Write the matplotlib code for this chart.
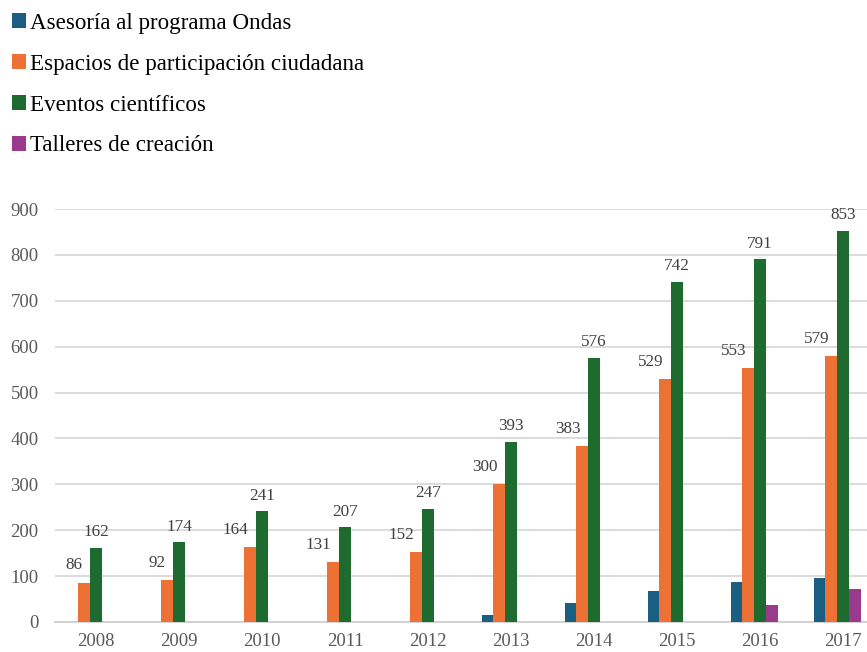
import numpy as np
import matplotlib
matplotlib.use("Agg")
import matplotlib.pyplot as plt
from matplotlib.patches import Patch

# Años y actividades por categoría
years = ["2008", "2009", "2010", "2011", "2012", "2013", "2014", "2015", "2016", "2017"]
asesoria = [0, 0, 0, 0, 0, 15, 42, 67, 87, 96]
espacios = [86, 92, 164, 131, 152, 300, 383, 529, 553, 579]
eventos = [162, 174, 241, 207, 247, 393, 576, 742, 791, 853]
talleres = [0, 0, 0, 0, 0, 0, 0, 1, 37, 72]
otros = [0, 0, 0, 0, 0, 0, 1, 1, 1, 1]

series_labels = ["Asesoría al programa Ondas", "Espacios de participación ciudadana",
                 "Eventos científicos", "Talleres de creación"]
colors = ["#1A5F82", "#ED7134", "#1D6B2F", "#993A8C", "#5E9A4E"]

plt.rcParams["font.family"] = ["Liberation Serif", "DejaVu Serif"]

W, H = 867, 652
fig = plt.figure(figsize=(W / 100, H / 100), dpi=100)
# plot area in pixels: left 54.5, width 830 (extends past the right edge), y0 at 622, y900 at 209
ax = fig.add_axes([54.5 / W, 30 / H, 830 / W, 413 / H])

x = np.arange(len(years))
bw = 0.141
all_series = [asesoria, espacios, eventos, talleres, otros]
bars = []
for i, (vals, c) in enumerate(zip(all_series, colors)):
    b = ax.bar(x + (i - 2) * bw, vals, width=bw, color=c, zorder=3, linewidth=0)
    bars.append(b)

# value labels for participation spaces and scientific events
for xi, v in zip(x, espacios):
    ax.annotate(str(v), (xi - bw, v), xytext=(-1.5, 9.4), textcoords="offset points",
                ha="right", va="baseline", fontsize=12.3, color="#404040")
for xi, v in zip(x, eventos):
    ax.annotate(str(v), (xi, v), xytext=(0, 8.2), textcoords="offset points",
                ha="center", va="baseline", fontsize=12.3, color="#404040")

ax.set_xlim(-0.5, 9.5)
ax.set_ylim(0, 900)
ax.set_yticks(np.arange(0, 901, 100))
ax.set_xticks(x)
ax.set_xticklabels(years)
ax.yaxis.grid(True, color="#D9D9D9", linewidth=1.3, zorder=0)
ax.set_axisbelow(True)
for s in ["top", "right", "left"]:
    ax.spines[s].set_visible(False)
ax.spines["bottom"].set_color("#D0D0D0")
ax.spines["bottom"].set_linewidth(1.3)
ax.tick_params(axis="both", length=0, labelsize=13.5, labelcolor="#595959")
ax.tick_params(axis="y", pad=11.5)
ax.tick_params(axis="x", pad=8)

handles = [Patch(facecolor=c, edgecolor="none") for c in colors[:4]]
fig.legend(handles, series_labels, loc="upper left", bbox_to_anchor=(5 / W, 1 - 6 / H),
           frameon=False, fontsize=16.6, handlelength=0.6, handleheight=0.6,
           handletextpad=0.2, labelspacing=0.86, borderaxespad=0, borderpad=0.3)

fig.savefig("out.png", dpi=100)
